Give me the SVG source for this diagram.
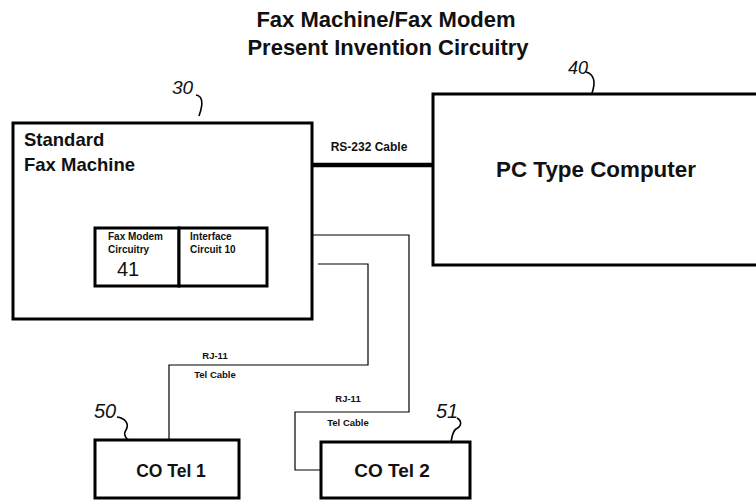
<svg xmlns="http://www.w3.org/2000/svg" width="756" height="501" viewBox="0 0 756 501">
<style>
.box{fill:#fff;stroke:#000;stroke-width:3}
.t{font-family:"Liberation Sans",Arial,sans-serif;font-weight:bold;fill:#111}
.h{font-family:"Liberation Sans",Arial,sans-serif;fill:#111}
.w{fill:none;stroke:#000;stroke-width:1.2}
.lead{fill:none;stroke:#000;stroke-width:1.6}
</style>
<rect width="756" height="501" fill="#fff"/>
<g id="title">
<text class="t" x="386" y="27" font-size="22" text-anchor="middle">Fax Machine/Fax Modem</text>
<text class="t" x="388" y="55" font-size="22" text-anchor="middle">Present Invention Circuitry</text>
</g>
<g id="connectors">
<line x1="312" y1="165" x2="433" y2="165" stroke="#000" stroke-width="4.5"/>
<text class="t" x="369" y="151" font-size="12" text-anchor="middle">RS-232 Cable</text>
<polyline class="w" points="313,235 409,235 409,412 295,412 295,470 322,470"/>
<polyline class="w" points="318,264 368,264 368,365 169,365 169,440"/>
<text class="t" x="215" y="359" font-size="9.5" text-anchor="middle">RJ-11</text>
<text class="t" x="215" y="378" font-size="9.5" text-anchor="middle">Tel Cable</text>
<text class="t" x="348" y="402" font-size="9.5" text-anchor="middle">RJ-11</text>
<text class="t" x="348" y="426" font-size="9.5" text-anchor="middle">Tel Cable</text>
</g>
<g id="fax30">
<rect class="box" x="13" y="123" width="299" height="196"/>
<text class="t" x="24" y="146" font-size="18.5">Standard</text>
<text class="t" x="24" y="171" font-size="18.5">Fax Machine</text>
<text class="h" x="172" y="94" font-size="19" font-style="italic">30</text>
<path class="lead" d="M196,95 C202,96 204,102 199,116"/>
</g>
<g id="modem41">
<rect class="box" x="95" y="228" width="84" height="58"/>
<text class="t" x="108" y="240" font-size="10">Fax Modem</text>
<text class="t" x="108" y="253" font-size="10">Circuitry</text>
<text class="h" x="117" y="276" font-size="20">41</text>
</g>
<g id="interface10">
<rect class="box" x="179" y="228" width="88" height="58"/>
<text class="t" x="190" y="240" font-size="10">Interface</text>
<text class="t" x="190" y="253" font-size="10">Circuit 10</text>
</g>
<g id="pc40">
<rect class="box" x="433" y="94" width="340" height="171"/>
<text class="t" x="596" y="177" font-size="22.4" text-anchor="middle">PC Type Computer</text>
<text class="h" x="568" y="74" font-size="18" font-style="italic">40</text>
<path class="lead" d="M586,72 C594,74 596,82 592,93"/>
</g>
<g id="cotel50">
<rect class="box" x="95" y="440" width="144" height="58"/>
<text class="t" x="171" y="477" font-size="17.5" text-anchor="middle">CO Tel 1</text>
<text class="h" x="94" y="418" font-size="20" font-style="italic">50</text>
<path class="lead" d="M117,417 C124,418 130,423 126,430 C123,434 126,438 128,440"/>
</g>
<g id="cotel51">
<rect class="box" x="321" y="442" width="149" height="56"/>
<text class="t" x="392" y="477" font-size="19" text-anchor="middle">CO Tel 2</text>
<text class="h" x="436" y="418" font-size="20" font-style="italic">51</text>
<path class="lead" d="M457,418 C462,421 462,426 456,429 C452,432 452,438 451,442"/>
</g>
</svg>
